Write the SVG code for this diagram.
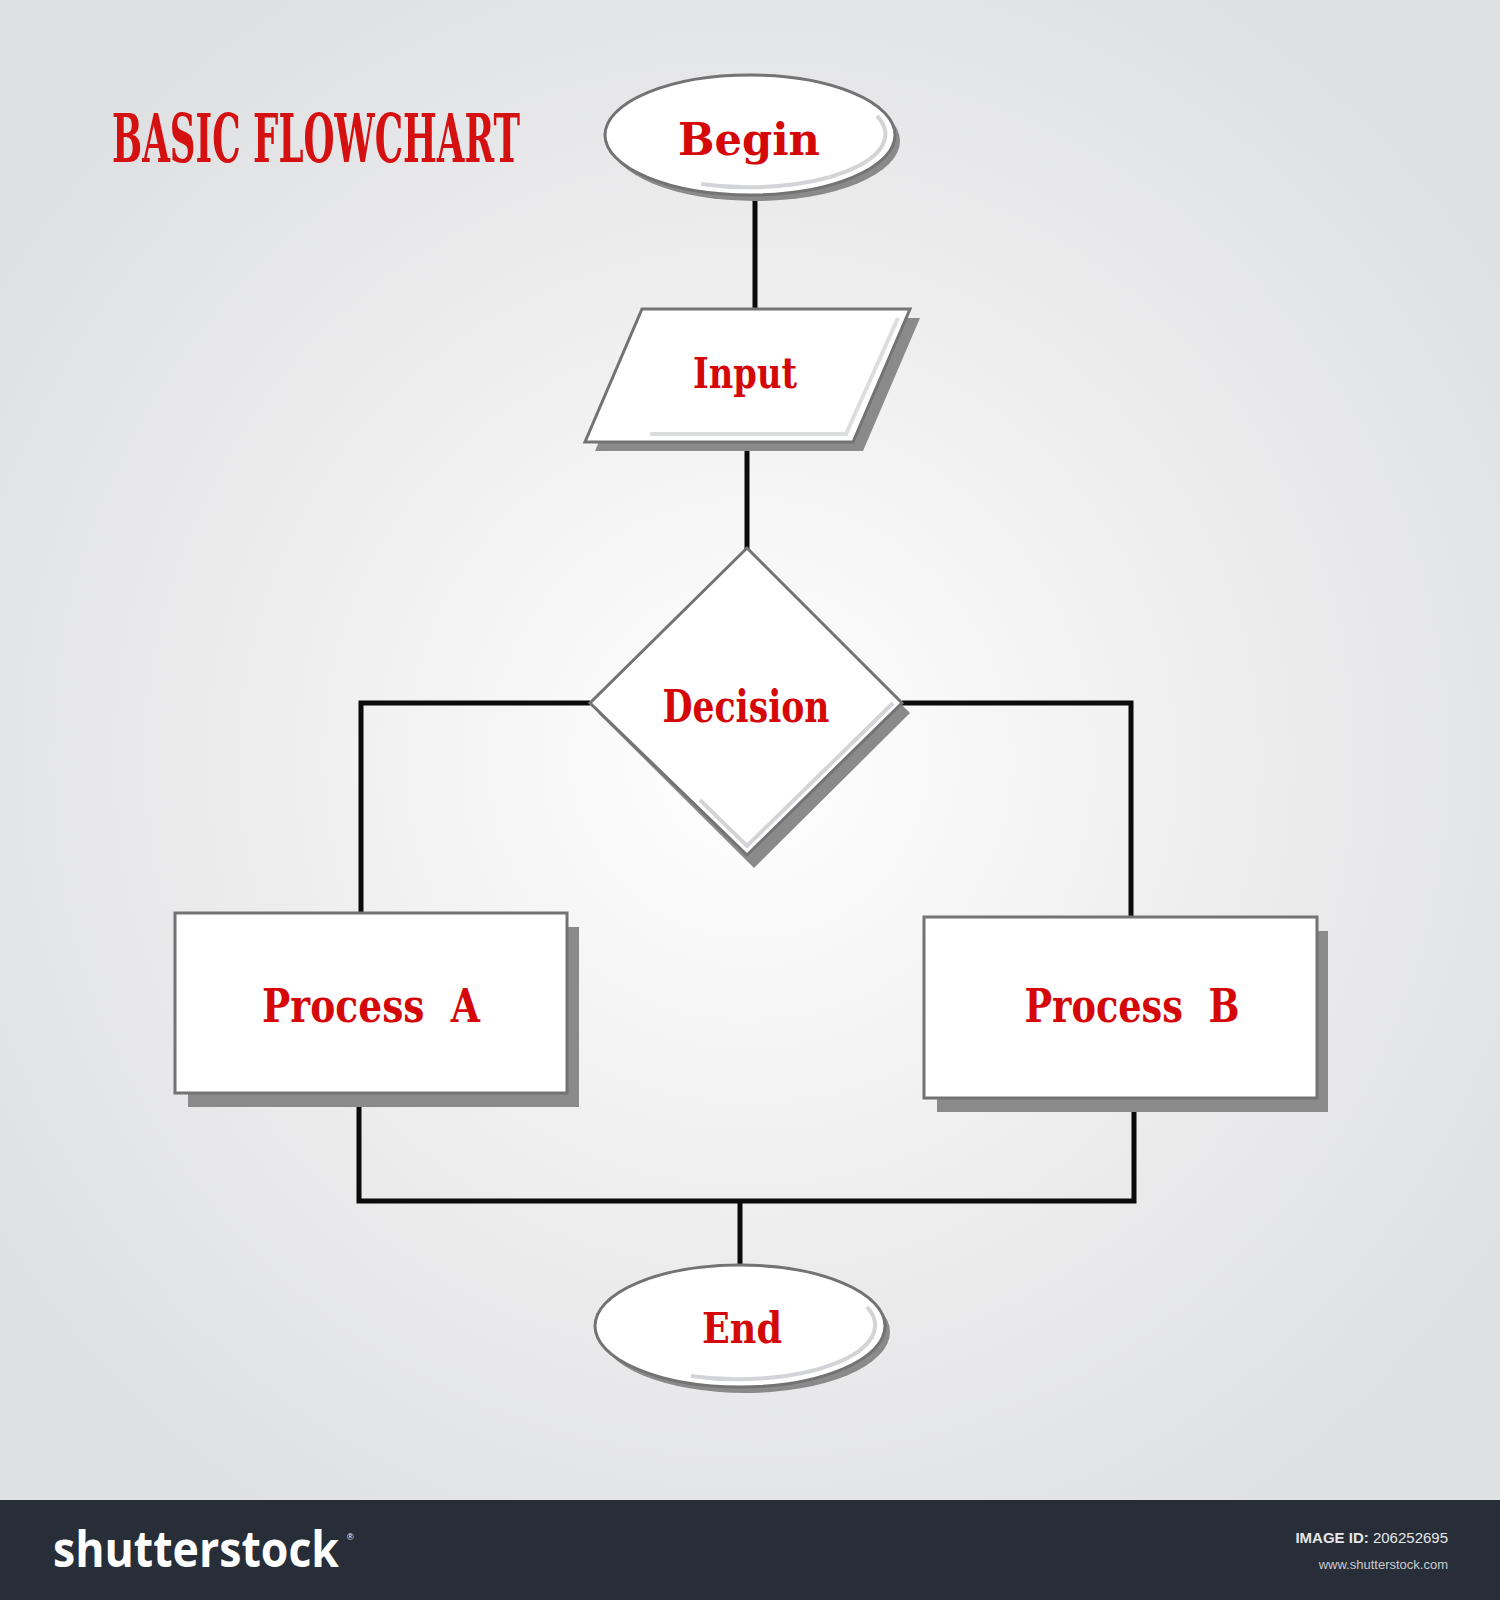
<svg xmlns="http://www.w3.org/2000/svg" width="1500" height="1600" viewBox="0 0 1500 1600">
<defs>
<radialGradient id="bg" cx="750" cy="760" r="900" gradientUnits="userSpaceOnUse">
<stop offset="0" stop-color="#ffffff"/>
<stop offset="0.55" stop-color="#ededee"/>
<stop offset="1" stop-color="#dfe0e2"/>
</radialGradient>
<linearGradient id="bevH" x1="0" y1="0" x2="1" y2="0">
<stop offset="0" stop-color="#d4d5d8" stop-opacity="0"/>
<stop offset="1" stop-color="#c9cacd"/>
</linearGradient>
<linearGradient id="bevV" x1="0" y1="0" x2="0" y2="1">
<stop offset="0" stop-color="#d4d5d8" stop-opacity="0.3"/>
<stop offset="1" stop-color="#c9cacd"/>
</linearGradient>
<style>
.shadow{fill:#8b8a8a}
.shape{fill:#ffffff;stroke:#737373;stroke-width:3}
.bevel{fill:none;stroke:#d3d4d7;stroke-width:4}
.lbl{font-family:"DejaVu Serif","Liberation Serif",serif;font-weight:bold;fill:#d40808;text-anchor:middle}
.conn{fill:none;stroke:#0b0b0b;stroke-width:5}
</style>
</defs>
<rect x="0" y="0" width="1500" height="1500" fill="url(#bg)"/>

<text id="title" x="112" y="162" font-family="DejaVu Serif,Liberation Serif,serif" font-weight="bold" font-size="68" fill="#d41010" textLength="408" lengthAdjust="spacingAndGlyphs">BASIC FLOWCHART</text>

<g id="connectors">
<line class="conn" x1="755" y1="196" x2="755" y2="310"/>
<line class="conn" x1="747" y1="446" x2="747" y2="550"/>
<polyline class="conn" points="590,703 361,703 361,914"/>
<polyline class="conn" points="902,703 1131,703 1131,918"/>
<polyline class="conn" points="359,1106 359,1201 1134,1201 1134,1110"/>
<line class="conn" x1="740" y1="1201" x2="740" y2="1267"/>
</g>

<g id="begin">
<ellipse class="shadow" cx="755" cy="141" rx="145" ry="60"/>
<ellipse class="shape" cx="750" cy="135" rx="145" ry="60"/>
<path class="bevel" d="M877,116 A137,53 0 0 1 701,184"/>
<text class="lbl" x="749" y="155" font-size="45" textLength="142" lengthAdjust="spacingAndGlyphs">Begin</text>
</g>

<g id="input">
<polygon class="shadow" points="652,318 920,318 863,451 595,451"/>
<polygon class="shape" points="642,309 910,309 853,442 585,442"/>
<polyline class="bevel" points="898,318 846,434 650,434" opacity="0.8"/>
<text class="lbl" x="745" y="388" font-size="43" textLength="104" lengthAdjust="spacingAndGlyphs">Input</text>
</g>

<g id="decision">
<polygon class="shadow" points="754,558 910,713 754,868 598,713"/>
<polygon class="shape" points="747,548 902,703 747,855 590,703"/>
<polyline class="bevel" points="893,703 747,846 700,800"/>
<text class="lbl" x="746" y="722" font-size="45" textLength="167" lengthAdjust="spacingAndGlyphs">Decision</text>
</g>

<g id="processA">
<rect class="shadow" x="188" y="927" width="391" height="180"/>
<rect class="shape" x="175" y="913" width="392" height="180"/>
<line x1="554" y1="952" x2="554" y2="1082" stroke="url(#bevV)" stroke-width="6"/>
<line x1="230" y1="1082" x2="557" y2="1082" stroke="url(#bevH)" stroke-width="6"/>
<text class="lbl" x="371" y="1022" font-size="46" textLength="218" lengthAdjust="spacingAndGlyphs" xml:space="preserve">Process  A</text>
</g>

<g id="processB">
<rect class="shadow" x="937" y="931" width="391" height="181"/>
<rect class="shape" x="924" y="917" width="393" height="181"/>
<line x1="1304" y1="955" x2="1304" y2="1086" stroke="url(#bevV)" stroke-width="6"/>
<line x1="980" y1="1086" x2="1307" y2="1086" stroke="url(#bevH)" stroke-width="6"/>
<text class="lbl" x="1132" y="1022" font-size="46" textLength="215" lengthAdjust="spacingAndGlyphs" xml:space="preserve">Process  B</text>
</g>

<g id="end">
<ellipse class="shadow" cx="745" cy="1332" rx="145" ry="61"/>
<ellipse class="shape" cx="740" cy="1326" rx="145" ry="61"/>
<path class="bevel" d="M867,1307 A137,54 0 0 1 691,1376"/>
<text class="lbl" x="742" y="1343" font-size="42" textLength="80" lengthAdjust="spacingAndGlyphs">End</text>
</g>

<g id="footer">
<rect x="0" y="1500" width="1500" height="100" fill="#282e38"/>
<text x="53" y="1567" font-family="Open Sans,Liberation Sans,sans-serif" font-weight="bold" font-size="50" fill="#ffffff" textLength="286" lengthAdjust="spacingAndGlyphs">shutterstock</text>
<text x="347" y="1540" font-family="Liberation Sans,sans-serif" font-size="9" fill="#ffffff">®</text>
<text x="1448" y="1543" font-family="Liberation Sans,sans-serif" font-size="15" fill="#e6e7e9" text-anchor="end"><tspan font-weight="bold">IMAGE ID:</tspan> 206252695</text>
<text x="1448" y="1569" font-family="Liberation Sans,sans-serif" font-size="13" fill="#c9cbcf" text-anchor="end">www.shutterstock.com</text>
</g>
</svg>
